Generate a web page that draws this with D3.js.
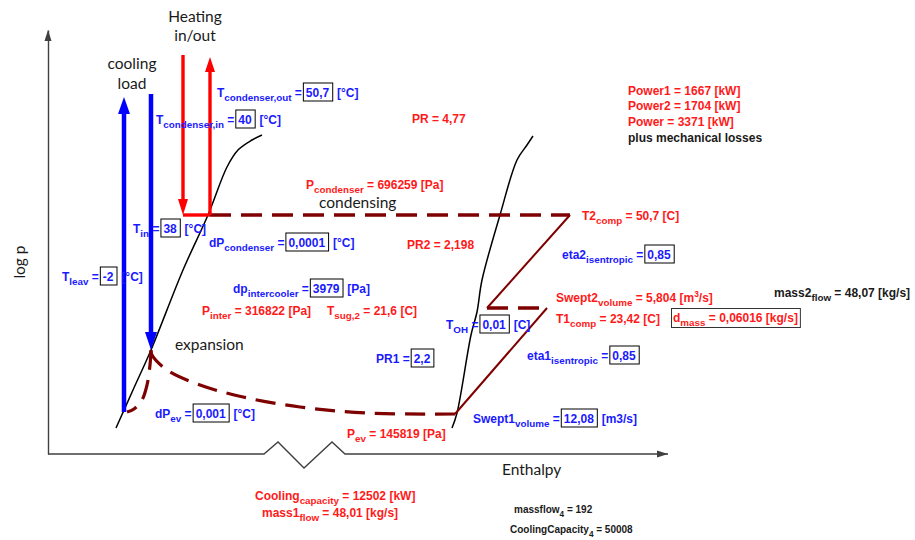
<!DOCTYPE html>
<html>
<head>
<meta charset="utf-8">
<script src="https://cdn.jsdelivr.net/npm/d3@7"></script>
<style>
body { margin: 0; background: #fff; }
text { white-space: pre; }
</style>
</head>
<body>
<svg id="chart"></svg>
<script>
// schematic log p - h diagram, coordinates in chart units (h along enthalpy, p along log p)
let leftSat = [[68,26],[85,64],[103,104],[135,184],[160,239],[179,287],[190,304],[204,314],[214,319]]
let rightSat = [[404,26],[409,41],[423,119],[429,142],[434,174],[452,239],[469,294],[479,309],[485,318]]
let condensing = [[162,239],[522,239]]
let hpCompression = [[522,239],[439,146]]
let intercooler = [[439,146],[499,146]]
let lpCompression = [[499,146],[407,40]]
let evaporating = [[407,40],[319,41],[252,47],[195,57],[152,69],[119,84],[104,99],[103,104]]
let expansionHook = [[103,104],[102,89],[99,69],[94,54],[86,45],[79,42]]
let coolingUp = [[76,42],[76,357]]
let coolingDown = [[103,360],[103,104]]
let heatingDown = [[135,399],[135,239]]
let heatingJoin = [[135,239],[162,239]]
let heatingUp = [[162,239],[162,397]]
let xAxisLine = [[0,0],[216,0],[230,12],[256,-14],[284,12],[297,0],[620,0]]

// annotations: pieces are [text, kind] with kind n=normal s=sub u=sup b=boxed value
let labels = [
    [['T'],['condenser,out','s'],[' ='],['50,7','b'],[' [°C]']],
    [['T'],['condenser,in','s'],[' ='],['40','b'],[' [°C]']],
    [['P'],['condenser','s'],[' = 696259 [Pa]']],
    [['T'],['in','s'],[' ='],['38','b'],[' [°C]']],
    [['dP'],['condenser','s'],[' ='],['0,0001','b'],[' [°C]']],
    [['PR = 4,77']],
    [['PR2 = 2,198']],
    [['Power1 = 1667 [kW]']],
    [['Power2 = 1704 [kW]']],
    [['Power = 3371 [kW]']],
    [['plus mechanical losses']],
    [['T2'],['comp','s'],[' = 50,7 [C]']],
    [['eta2'],['isentropic','s'],[' ='],['0,85','b']],
    [['Swept2'],['volume','s'],[' = 5,804 [m'],['3','u'],['/s]']],
    [['mass2'],['flow','s'],[' = 48,07 [kg/s]']],
    [['T1'],['comp','s'],[' = 23,42 [C]']],
    [['d'],['mass','s'],[' = 0,06016 [kg/s]']],
    [['T'],['OH','s'],[' ='],['0,01','b'],[' [C]']],
    [['eta1'],['isentropic','s'],[' ='],['0,85','b']],
    [['PR1 ='],['2,2','b']],
    [['Swept1'],['volume','s'],[' ='],['12,08','b'],[' [m3/s]']],
    [['P'],['ev','s'],[' = 145819 [Pa]']],
    [['T'],['leav','s'],[' ='],['-2','b'],[' [°C]']],
    [['dp'],['intercooler','s'],[' ='],['3979','b'],[' [Pa]']],
    [['P'],['inter','s'],[' = 316822 [Pa]']],
    [['T'],['sug,2','s'],[' = 21,6 [C]']],
    [['dP'],['ev','s'],[' ='],['0,001','b'],[' [°C]']],
    [['Cooling'],['capacity','s'],[' = 12502 [kW]']],
    [['mass1'],['flow','s'],[' = 48,01 [kg/s]']],
    [['massflow'],['4','s'],[' = 192']],
    [['CoolingCapacity'],['4','s'],[' = 50008']]
]
let labelPos = [
    [169,357],[108,330],[258,265],[85,221],[161,207],[364,331],[359,205],
    [580,359],[580,344],[580,328],[580,312],[534,234],[514,195],[508,152],
    [726,157],[508,131],[625,132],[398,125],[479,94],[328,91],[425,31],
    [299,16],[14,173],[185,161],[154,139],[279,139],[107,36],[207,-46],
    [214,-63],[466,-59],[462,-79]
]
let labelTone = [
    'blue','blue','red','blue','blue','red','red',
    'red','red','red','black','red','blue','red',
    'black','red','redbox','blue','blue','blue','blue',
    'red','blue','blue','red','red','blue','red',
    'red','small','small'
]

let words = [['Heating',147,432],['in/out',147,413],['cooling',84,385],['load',84,365]]
let wordsLeft = [['condensing',271,246],['expansion',127,104],['Enthalpy',454,-21]]

let width = 915
let height = 540
let tones = {blue: '#1a1aff', red: '#ff1a1a', redbox: '#ff1a1a', black: '#1a1a1a', small: '#1a1a1a'}
let maroon = '#7f0000'

let svg = d3.select('#chart').attr('width', width).attr('height', height)
let xScale = d3.scaleLinear().domain([0, 620]).range([48, 668])
let yScale = d3.scaleLinear().domain([0, 424]).range([454, 30])

let line = d3.line().x(d => xScale(d[0])).y(d => yScale(d[1]))
let curve = d3.line().x(d => xScale(d[0])).y(d => yScale(d[1])).curve(d3.curveCatmullRom)

function drawAxes(){
    let yAxis = d3.axisLeft(yScale).tickValues([]).tickSizeOuter(0)
    let g = svg.append('g').attr('transform', 'translate(' + xScale(0) + ',0)').call(yAxis)
    g.select('.domain').attr('stroke', '#404040').attr('stroke-width', 1.4)
    svg.append('path').attr('d', line(xAxisLine))
        .attr('fill', 'none').attr('stroke', '#404040').attr('stroke-width', 1.4)
    let tx = xScale(620), ty = yScale(0)
    svg.append('path').attr('d', 'M' + tx + ',' + ty + 'L' + (tx - 11) + ',' + (ty - 3.5) + 'L' + (tx - 11) + ',' + (ty + 3.5) + 'Z')
        .attr('fill', '#404040')
    let ax = xScale(0), ay = yScale(424)
    svg.append('path').attr('d', 'M' + ax + ',' + ay + 'L' + (ax - 3.5) + ',' + (ay + 11) + 'L' + (ax + 3.5) + ',' + (ay + 11) + 'Z')
        .attr('fill', '#404040')
    svg.append('text').text('log p')
        .attr('transform', 'translate(25,' + yScale(192) + ') rotate(-90)')
        .attr('text-anchor', 'middle')
        .attr('font-family', 'Lato').attr('font-size', 15.5).attr('fill', '#1a1a1a')
}

function drawSaturation(){
    [leftSat, rightSat].forEach(function(pts){
        svg.append('path').attr('d', curve(pts))
            .attr('fill', 'none').attr('stroke', '#000').attr('stroke-width', 1.5)
    })
}

function drawCycle(){
    [condensing, intercooler].forEach(function(pts){
        svg.append('path').attr('d', line(pts)).attr('fill', 'none')
            .attr('stroke', maroon).attr('stroke-width', 3.6).attr('stroke-dasharray', '21,10')
    })
    ;[evaporating, expansionHook].forEach(function(pts){
        svg.append('path').attr('d', curve(pts)).attr('fill', 'none')
            .attr('stroke', maroon).attr('stroke-width', 3.2).attr('stroke-dasharray', '20,10')
    })
    ;[hpCompression, lpCompression].forEach(function(pts){
        svg.append('path').attr('d', line(pts)).attr('fill', 'none')
            .attr('stroke', maroon).attr('stroke-width', 2)
    })
}

function drawArrow(pts, color, w, headLen, headW){
    let x0 = xScale(pts[0][0]), y0 = yScale(pts[0][1])
    let x1 = xScale(pts[1][0]), y1 = yScale(pts[1][1])
    let len = Math.hypot(x1 - x0, y1 - y0)
    let ux = (x1 - x0) / len, uy = (y1 - y0) / len
    let bx = x1 - ux * headLen, by = y1 - uy * headLen
    svg.append('line').attr('x1', x0).attr('y1', y0).attr('x2', bx).attr('y2', by)
        .attr('stroke', color).attr('stroke-width', w)
    svg.append('path')
        .attr('d', 'M' + x1 + ',' + y1 + 'L' + (bx - uy * headW / 2) + ',' + (by + ux * headW / 2) +
            'L' + (bx + uy * headW / 2) + ',' + (by - ux * headW / 2) + 'Z')
        .attr('fill', color)
}

function drawArrows(){
    drawArrow(coolingUp, '#0000ff', 4.5, 17, 12)
    drawArrow(coolingDown, '#0000ff', 4.5, 18, 12)
    drawArrow(heatingDown, '#ff0000', 3.4, 16, 10)
    drawArrow(heatingUp, '#ff0000', 3.4, 15, 10)
    svg.append('path').attr('d', line(heatingJoin)).attr('stroke', '#ff0000').attr('stroke-width', 3.4)
}

function drawLabels(){
    labels.forEach(function(pieces, i){
        let tone = labelTone[i]
        let size = tone === 'small' ? 10 : 12
        let x = xScale(labelPos[i][0]), y = yScale(labelPos[i][1])
        let startX = x
        let g = svg.append('g')
        pieces.forEach(function(p){
            let kind = p[1] || 'n'
            let t = g.append('text').text(p[0])
                .attr('font-family', 'Liberation Sans, Arial, sans-serif')
                .attr('font-weight', 'bold').attr('fill', tones[tone])
            if (kind === 's') {
                t.attr('x', x).attr('y', y + 3.5).attr('font-size', size * 0.82)
                x += t.node().getComputedTextLength()
            } else if (kind === 'u') {
                t.attr('x', x).attr('y', y - 5).attr('font-size', size * 0.7)
                x += t.node().getComputedTextLength()
            } else if (kind === 'b') {
                x += 1.5
                t.attr('x', x + 2.5).attr('y', y).attr('font-size', size)
                let w = t.node().getComputedTextLength()
                g.insert('rect', 'text').attr('x', x).attr('y', y - 14).attr('width', w + 6).attr('height', 18)
                    .attr('fill', 'none').attr('stroke', '#000').attr('stroke-width', 1)
                x += w + 7
            } else {
                t.attr('x', x).attr('y', y).attr('font-size', size)
                x += t.node().getComputedTextLength()
            }
        })
        if (tone === 'redbox') {
            g.insert('rect', 'text').attr('x', startX - 1.5).attr('y', y - 13.5).attr('width', x - startX + 4).attr('height', 19)
                .attr('fill', 'none').attr('stroke', '#333').attr('stroke-width', 1)
        }
    })
    words.forEach(function(w){
        svg.append('text').text(w[0]).attr('x', xScale(w[1])).attr('y', yScale(w[2]))
            .attr('text-anchor', 'middle').attr('font-family', 'Lato')
            .attr('font-size', 15.5).attr('fill', '#1a1a1a')
    })
    wordsLeft.forEach(function(w){
        svg.append('text').text(w[0]).attr('x', xScale(w[1])).attr('y', yScale(w[2]))
            .attr('font-family', 'Lato').attr('font-size', 15.5).attr('fill', '#1a1a1a')
    })
}

drawAxes()
drawSaturation()
drawCycle()
drawArrows()
drawLabels()
</script>
</body>
</html>
